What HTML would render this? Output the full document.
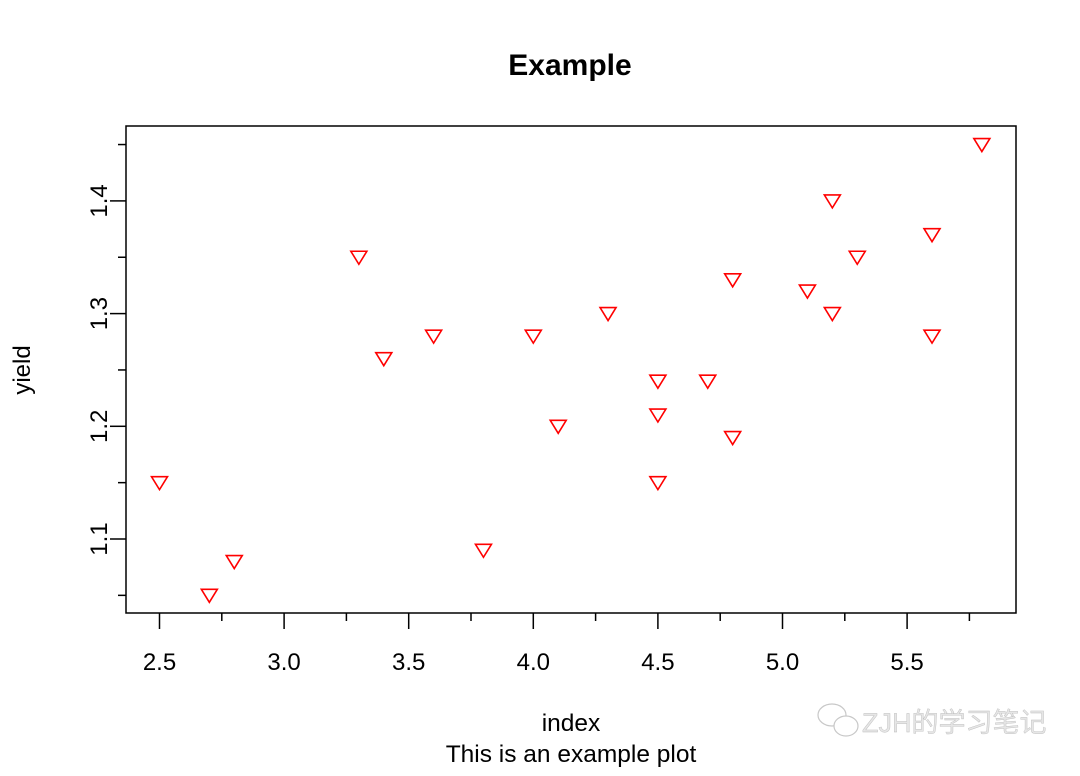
<!DOCTYPE html>
<html><head><meta charset="utf-8"><style>
html,body{margin:0;padding:0;background:#fff;}
svg text{font-family:"Liberation Sans",Arial,sans-serif;}
</style></head><body>
<svg id="chart" width="1080" height="771" xmlns="http://www.w3.org/2000/svg">
<text x="570" y="75" text-anchor="middle" font-size="30" font-weight="bold" fill="#000">Example</text>
<rect x="126" y="126" width="890" height="487" fill="none" stroke="#000" stroke-width="1.5"/>
<g id="xaxis"></g>
<g id="yaxis"></g>
<g id="points"></g>
<text x="571" y="731" text-anchor="middle" font-size="24.5" fill="#000">index</text>
<text x="571" y="762" text-anchor="middle" font-size="24.5" fill="#000">This is an example plot</text>
<text transform="translate(30,370) rotate(-90)" text-anchor="middle" font-size="24" fill="#000">yield</text>
<g fill="none" stroke="#c8c8c8" stroke-width="1.2">
<ellipse cx="832" cy="715" rx="14" ry="11" fill="#fff"/><ellipse cx="846" cy="726" rx="12" ry="10" fill="#fff"/>
<text x="862" y="732" font-size="27" fill="#e6e6e6" stroke="#bbb" stroke-width="0.4" style='font-family:"Liberation Sans","Noto Sans CJK SC",sans-serif'>ZJH的学习笔记</text>
</g>
</svg>
<script>
const xValues=[2.5,2.7,2.8,3.3,3.4,3.6,3.8,4.0,4.1,4.3,4.5,4.5,4.5,4.7,4.8,4.8,5.1,5.2,5.2,5.3,5.6,5.6,5.8];
const yValues=[1.15,1.05,1.08,1.35,1.26,1.28,1.09,1.28,1.20,1.30,1.24,1.21,1.15,1.24,1.33,1.19,1.32,1.40,1.30,1.35,1.37,1.28,1.45];
const xTicks=[2.5,3.0,3.5,4.0,4.5,5.0,5.5];
const xTickLabels=["2.5","3.0","3.5","4.0","4.5","5.0","5.5"];
const yTicks=[1.1,1.2,1.3,1.4];
const yTickLabels=["1.1","1.2","1.3","1.4"];
const NS="http://www.w3.org/2000/svg";
function sx(v){return 159.5+(v-2.5)*249.2;}
function sy(v){return 539-(v-1.1)*1127;}
function mk(tag,attrs,parent){const e=document.createElementNS(NS,tag);for(const k in attrs)e.setAttribute(k,attrs[k]);parent.appendChild(e);return e;}
const xg=document.getElementById('xaxis'),yg=document.getElementById('yaxis'),pg=document.getElementById('points');
for(let v=2.5;v<=5.76;v+=0.25){const major=Math.abs((v*2)-Math.round(v*2))<1e-6;
 const l=mk('line',{x1:sx(v),x2:sx(v),y1:613,y2:major?629:621,stroke:'#000','stroke-width':1.5},xg);
 
 }
xTicks.forEach((v,i)=>{const t=mk('text',{x:sx(v),y:670,'text-anchor':'middle','font-size':24,fill:'#000'},xg);t.textContent=xTickLabels[i];
 
 });
for(let v=1.05;v<=1.451;v+=0.05){const major=Math.abs(v*10-Math.round(v*10))<1e-6;
 const l=mk('line',{x1:126,x2:major?110:118,y1:sy(v),y2:sy(v),stroke:'#000','stroke-width':1.5},yg);
 
 }
yTicks.forEach((v,i)=>{const t=mk('text',{transform:`translate(107,${sy(v)}) rotate(-90)`,'text-anchor':'middle','font-size':24,fill:'#000'},yg);t.textContent=yTickLabels[i];
 
 });
xValues.forEach((x,i)=>{const cx=sx(x),cy=sy(yValues[i]);
 const p=mk('polygon',{points:`${cx-8},${cy-6} ${cx+8},${cy-6} ${cx},${cy+7}`,fill:'none',stroke:'#ff0000','stroke-width':1.6},pg);
 
 });
</script>
</body></html>
